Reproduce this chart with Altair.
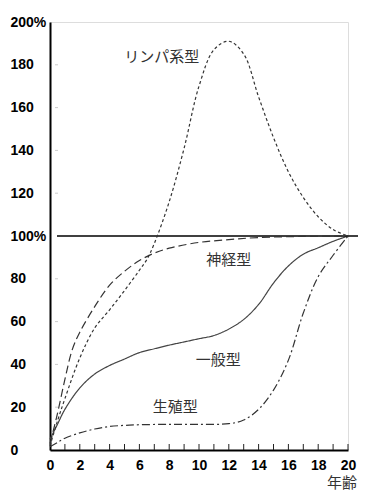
import altair as alt
import pandas as pd

# --- data (age in years, % of size at 20 years) ---
lymph_age = [0, 0.5, 1, 2, 3, 4, 5, 6, 6.5, 7, 8, 9, 10, 11, 12, 13, 14, 15, 16, 17, 18, 19, 20]
lymph_val = [2, 13.5, 24, 43, 57, 65.5, 74.5, 84, 89, 96.5, 116, 141, 170, 187, 191, 185, 165, 146, 130, 118, 109, 103, 100]

neural_age = [0, 0.5, 1, 1.5, 2, 3, 4, 5, 6, 7, 8, 10, 12, 14, 17, 20]
neural_val = [3, 17, 33, 47, 55, 67, 77, 83.5, 88.5, 92, 94.3, 97, 98.3, 99.3, 99.8, 100]

general_age = [0, 0.5, 1, 2, 3, 4, 5, 6, 7, 8, 9, 10, 11, 12, 13, 14, 15, 16, 17, 18, 19, 20]
general_val = [5, 12, 19, 29, 35.5, 39.5, 42.5, 45.5, 47.3, 49, 50.5, 52, 53.5, 56.5, 61, 68, 78, 86, 91.5, 94.5, 97.5, 100]

repro_age = [0, 0.5, 1, 2, 3, 4, 5, 6, 8, 10, 12, 13, 14, 15, 16, 17, 18, 19, 20]
repro_val = [1.5, 3.5, 5.5, 8, 9.8, 11, 11.5, 11.8, 12, 12, 12.3, 14, 19, 28, 42, 64, 81, 91, 100]

label_text = ["リンパ系型", "神経型", "一般型", "生殖型"]
label_age = [7.5, 12.0, 11.3, 8.4]
label_val = [183.6, 88.8, 42, 20]

x_ticks_minor = list(range(1, 21))
y_ticks_minor = [20, 40, 60, 80, 120, 140, 160, 180]

W, H = 298, 428
XS = alt.Scale(domain=[0, 20], nice=False, zero=False)
YS = alt.Scale(domain=[0, 200], nice=False)
XA = alt.Axis(values=list(range(0, 21, 2)), tickSize=0, grid=False, domainWidth=2,
              domainColor="black", labelFont="Liberation Sans", labelFontWeight="bold",
              labelFontSize=14, labelColor="black", labelPadding=8, labelFlush=False,
              labelOverlap=False, title=None)
YA = alt.Axis(values=list(range(0, 201, 20)), tickSize=0, grid=False, domainWidth=2,
              domainColor="black", labelFont="Liberation Sans", labelFontWeight="bold",
              labelFontSize=14, labelColor="black", labelAlign="left", labelPadding=40,
              labelFlush=False, labelOverlap=False, title=None,
              labelExpr="datum.value == 200 || datum.value == 100 ? datum.value + '%' : datum.value")
X = alt.X("age:Q", scale=XS, axis=XA, title=None)
Y = alt.Y("val:Q", scale=YS, axis=YA, title=None)


def series(ages, vals):
    return pd.DataFrame({"age": ages, "val": vals})


def line(df, dash, width=1.2, color="#333"):
    return alt.Chart(df).mark_line(interpolate="catmull-rom", strokeDash=dash, strokeWidth=width,
                                   color=color).encode(x=X, y=Y)


general = line(series(general_age, general_val), [1, 0], color="#444")
lymph = line(series(lymph_age, lymph_val), [3, 2.5])
neural = line(series(neural_age, neural_val), [8, 4])
repro = line(series(repro_age, repro_val), [8, 3, 2, 3])

ref100 = alt.Chart(pd.DataFrame({"val": [100]})).mark_rule(color="black", strokeWidth=1.3).encode(
    y=Y, x=alt.value(7), x2=alt.value(308))

xt = alt.Chart(pd.DataFrame({"age": x_ticks_minor})).mark_rule(color="#222", strokeWidth=1).encode(
    x=X, y=alt.value(H), y2=alt.value(H - 6))

yt = alt.Chart(pd.DataFrame({"val": y_ticks_minor})).mark_rule(color="#ccc", strokeWidth=1).encode(
    y=Y, x=alt.value(5), x2=alt.value(8))

labels = alt.Chart(pd.DataFrame({"age": label_age, "val": label_val, "t": label_text})).mark_text(
    font="Noto Sans CJK JP", fontSize=15, color="#333", baseline="middle", align="center").encode(
    x=X, y=Y, text="t:N")

age_title = alt.Chart(pd.DataFrame({"t": ["年齢"]})).mark_text(
    font="Noto Sans CJK JP", fontSize=15, color="#333", baseline="middle", align="center").encode(
    x=alt.value(292), y=alt.value(461), text="t:N")

chart = alt.layer(general, ref100, xt, yt, lymph, neural, repro, labels, age_title).properties(
    width=W, height=H,
    padding={"left": 42, "top": 14, "right": 22, "bottom": 48},
    autosize=alt.AutoSizeParams(type="none"),
).configure_view(stroke=None).configure(background="white")

chart.save("out.html", embed_options={"renderer": "svg", "actions": False})
